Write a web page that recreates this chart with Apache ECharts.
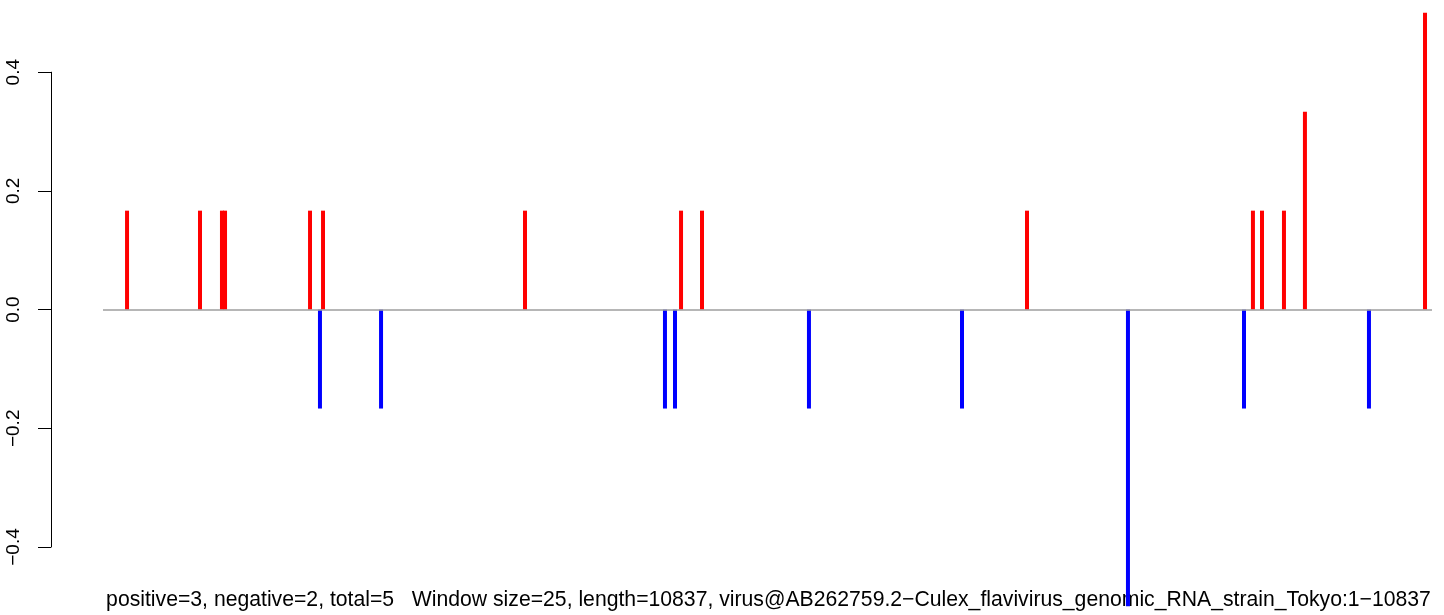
<!DOCTYPE html>
<html>
<head>
<meta charset="utf-8">
<script src="https://cdn.jsdelivr.net/npm/echarts@6/dist/echarts.min.js"></script>
<style>html,body{margin:0;padding:0;background:#fff}#c{width:1444px;height:615px}</style>
</head>
<body>
<div id="c"></div>
<script>
// Data (x = nucleotide position, y = window score)
var posX = [197, 792, 971, 996, 1689, 1795, 3442, 4714, 4885, 7535, 9377, 9451, 9630, 9801, 10780];
var posY = [0.1667, 0.1667, 0.1667, 0.1667, 0.1667, 0.1667, 0.1667, 0.1667, 0.1667, 0.1667, 0.1667, 0.1667, 0.1667, 0.3333, 0.5];
var negX = [1770, 2268, 4583, 4665, 5757, 7005, 8358, 9304, 10323];
var negY = [-0.1667, -0.1667, -0.1667, -0.1667, -0.1667, -0.1667, -0.5, -0.1667, -0.1667];
var yTicks = [-0.4, -0.2, 0.0, 0.2, 0.4];
var seqLength = 10837;
var caption = "positive=3, negative=2, total=5   Window size=25, length=10837, virus@AB262759.2\u2212Culex_flavivirus_genomic_RNA_strain_Tokyo:1\u221210837";

function pairs(xs, ys){ return xs.map(function(x,i){ return [x, ys[i]]; }); }

var chart = echarts.init(document.getElementById('c'), null, {renderer:'canvas'});
chart.setOption({
  animation: false,
  backgroundColor: '#ffffff',
  grid: { left: 103, right: 12, top: 72.2, height: 474.8, containLabel: false },
  xAxis: { type: 'value', min: 1, max: seqLength, show: false },
  yAxis: {
    type: 'value', min: yTicks[0], max: yTicks[yTicks.length-1], interval: 0.2,
    offset: 52,
    axisLine: { show: true, lineStyle: { color: '#000', width: 1 } },
    axisTick: { show: true, length: 13, lineStyle: { color: '#000', width: 1 } },
    splitLine: { show: false },
    axisLabel: {
      rotate: 90, margin: 28, color: '#000', fontFamily: 'Liberation Sans', fontSize: 19,
      formatter: function(v){ var s = Math.abs(v).toFixed(1); return (v < -1e-9 ? '\u2212' : '') + s; }
    }
  },
  series: [
    {
      type: 'bar', name: 'pos', data: pairs(posX, posY), barWidth: 4, barGap: '-100%', clip: false,
      itemStyle: { color: '#ff0000' }, z: 3,
      markLine: {
        silent: true, symbol: 'none', label: { show: false },
        lineStyle: { color: '#9e9e9e', width: 1.5, type: 'solid' },
        data: [{ yAxis: 0 }], animation: false
      }
    },
    {
      type: 'bar', name: 'neg', data: pairs(negX, negY), barWidth: 4, barGap: '-100%', clip: false,
      itemStyle: { color: '#0000ff' }, z: 3
    }
  ],
  graphic: [{
    type: 'text', x: 768.5, y: 600, z: 1,
    style: { text: caption, fill: '#000', font: '21.2px "Liberation Sans"', textAlign: 'center', textVerticalAlign: 'middle' }
  }]
});
</script>
</body>
</html>
